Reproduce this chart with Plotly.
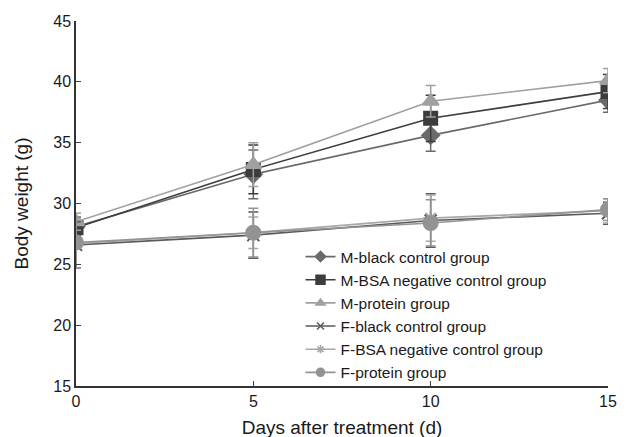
import plotly.graph_objects as go

days = [0, 5, 10, 15]
names = ["M-black control group", "M-BSA negative control group", "M-protein group",
         "F-black control group", "F-BSA negative control group", "F-protein group"]
m_black = [28.1, 32.4, 35.6, 38.5]
m_black_err = [0.8, 2.0, 1.3, 1.0]
m_bsa = [28.0, 32.8, 37.0, 39.2]
m_bsa_err = [0.7, 2.0, 1.9, 1.4]
m_protein = [28.5, 33.2, 38.4, 40.1]
m_protein_err = [0.7, 1.8, 1.3, 1.0]
f_black = [26.6, 27.4, 28.6, 29.2]
f_black_err = [1.9, 1.9, 2.2, 0.9]
f_bsa = [26.7, 27.6, 28.8, 29.4]
f_bsa_err = [2.0, 1.3, 1.9, 1.0]
f_protein = [26.8, 27.6, 28.4, 29.5]
f_protein_err = [2.1, 2.0, 1.9, 0.9]

series = [m_black, m_bsa, m_protein, f_black, f_bsa, f_protein]
errors = [m_black_err, m_bsa_err, m_protein_err, f_black_err, f_bsa_err, f_protein_err]
colors = ["#6a6a6a", "#3c3c3c", "#a0a0a0", "#5a5a5a", "#a8a8a8", "#939393"]
symbols = ["diamond", "square", "triangle-up", "x-thin", "asterisk", "circle"]
sizes = [13, 13, 14, 12, 12, 14]
legend_sizes = [8, 9, 8, 7, 7, 8]

fig = go.Figure()
for nm, ys, er, c, s, sz in zip(names, series, errors, colors, symbols, sizes):
    fig.add_trace(go.Scatter(
        x=days, y=ys, name=nm, mode="lines+markers", showlegend=False,
        line=dict(color=c, width=1.6),
        marker=dict(symbol=s, size=sz, color=c, line=dict(color=c, width=2)),
        error_y=dict(type="data", array=er, visible=True, color=c, thickness=1.5, width=5),
    ))
# legend entries with small symbols, as in the reference
for nm, c, s, lsz in zip(names, colors, symbols, legend_sizes):
    fig.add_trace(go.Scatter(
        x=[None], y=[None], name=nm, mode="lines+markers",
        line=dict(color=c, width=1.6),
        marker=dict(symbol=s, size=lsz, color=c, line=dict(color=c, width=1.5)),
    ))

fig.update_layout(
    width=630, height=437,
    margin=dict(l=68, r=30, t=13, b=59),
    plot_bgcolor="white", paper_bgcolor="white",
    font=dict(family="Liberation Sans, Arial", size=16, color="#1a1a1a"),
    showlegend=True,
    legend=dict(x=0.422, y=0.40, xanchor="left", yanchor="top",
                bgcolor="rgba(0,0,0,0)", font=dict(size=15.5), itemwidth=30,
                tracegroupgap=0),
)
fig.update_xaxes(range=[0, 15], tickvals=[0, 5, 10, 15], ticks="inside", ticklen=5,
                 showline=True, linecolor="#333", linewidth=1.5, showgrid=False, zeroline=False,
                 automargin=False,
                 title=dict(text="Days after treatment (d)", standoff=12))
fig.update_yaxes(range=[15, 45], tickvals=[15, 20, 25, 30, 35, 40, 45], ticks="inside", ticklen=5,
                 showline=True, linecolor="#333", linewidth=1.5, showgrid=False, zeroline=False,
                 automargin=False,
                 title=dict(text="Body weight (g)", standoff=20))

fig.write_html("out.html")
